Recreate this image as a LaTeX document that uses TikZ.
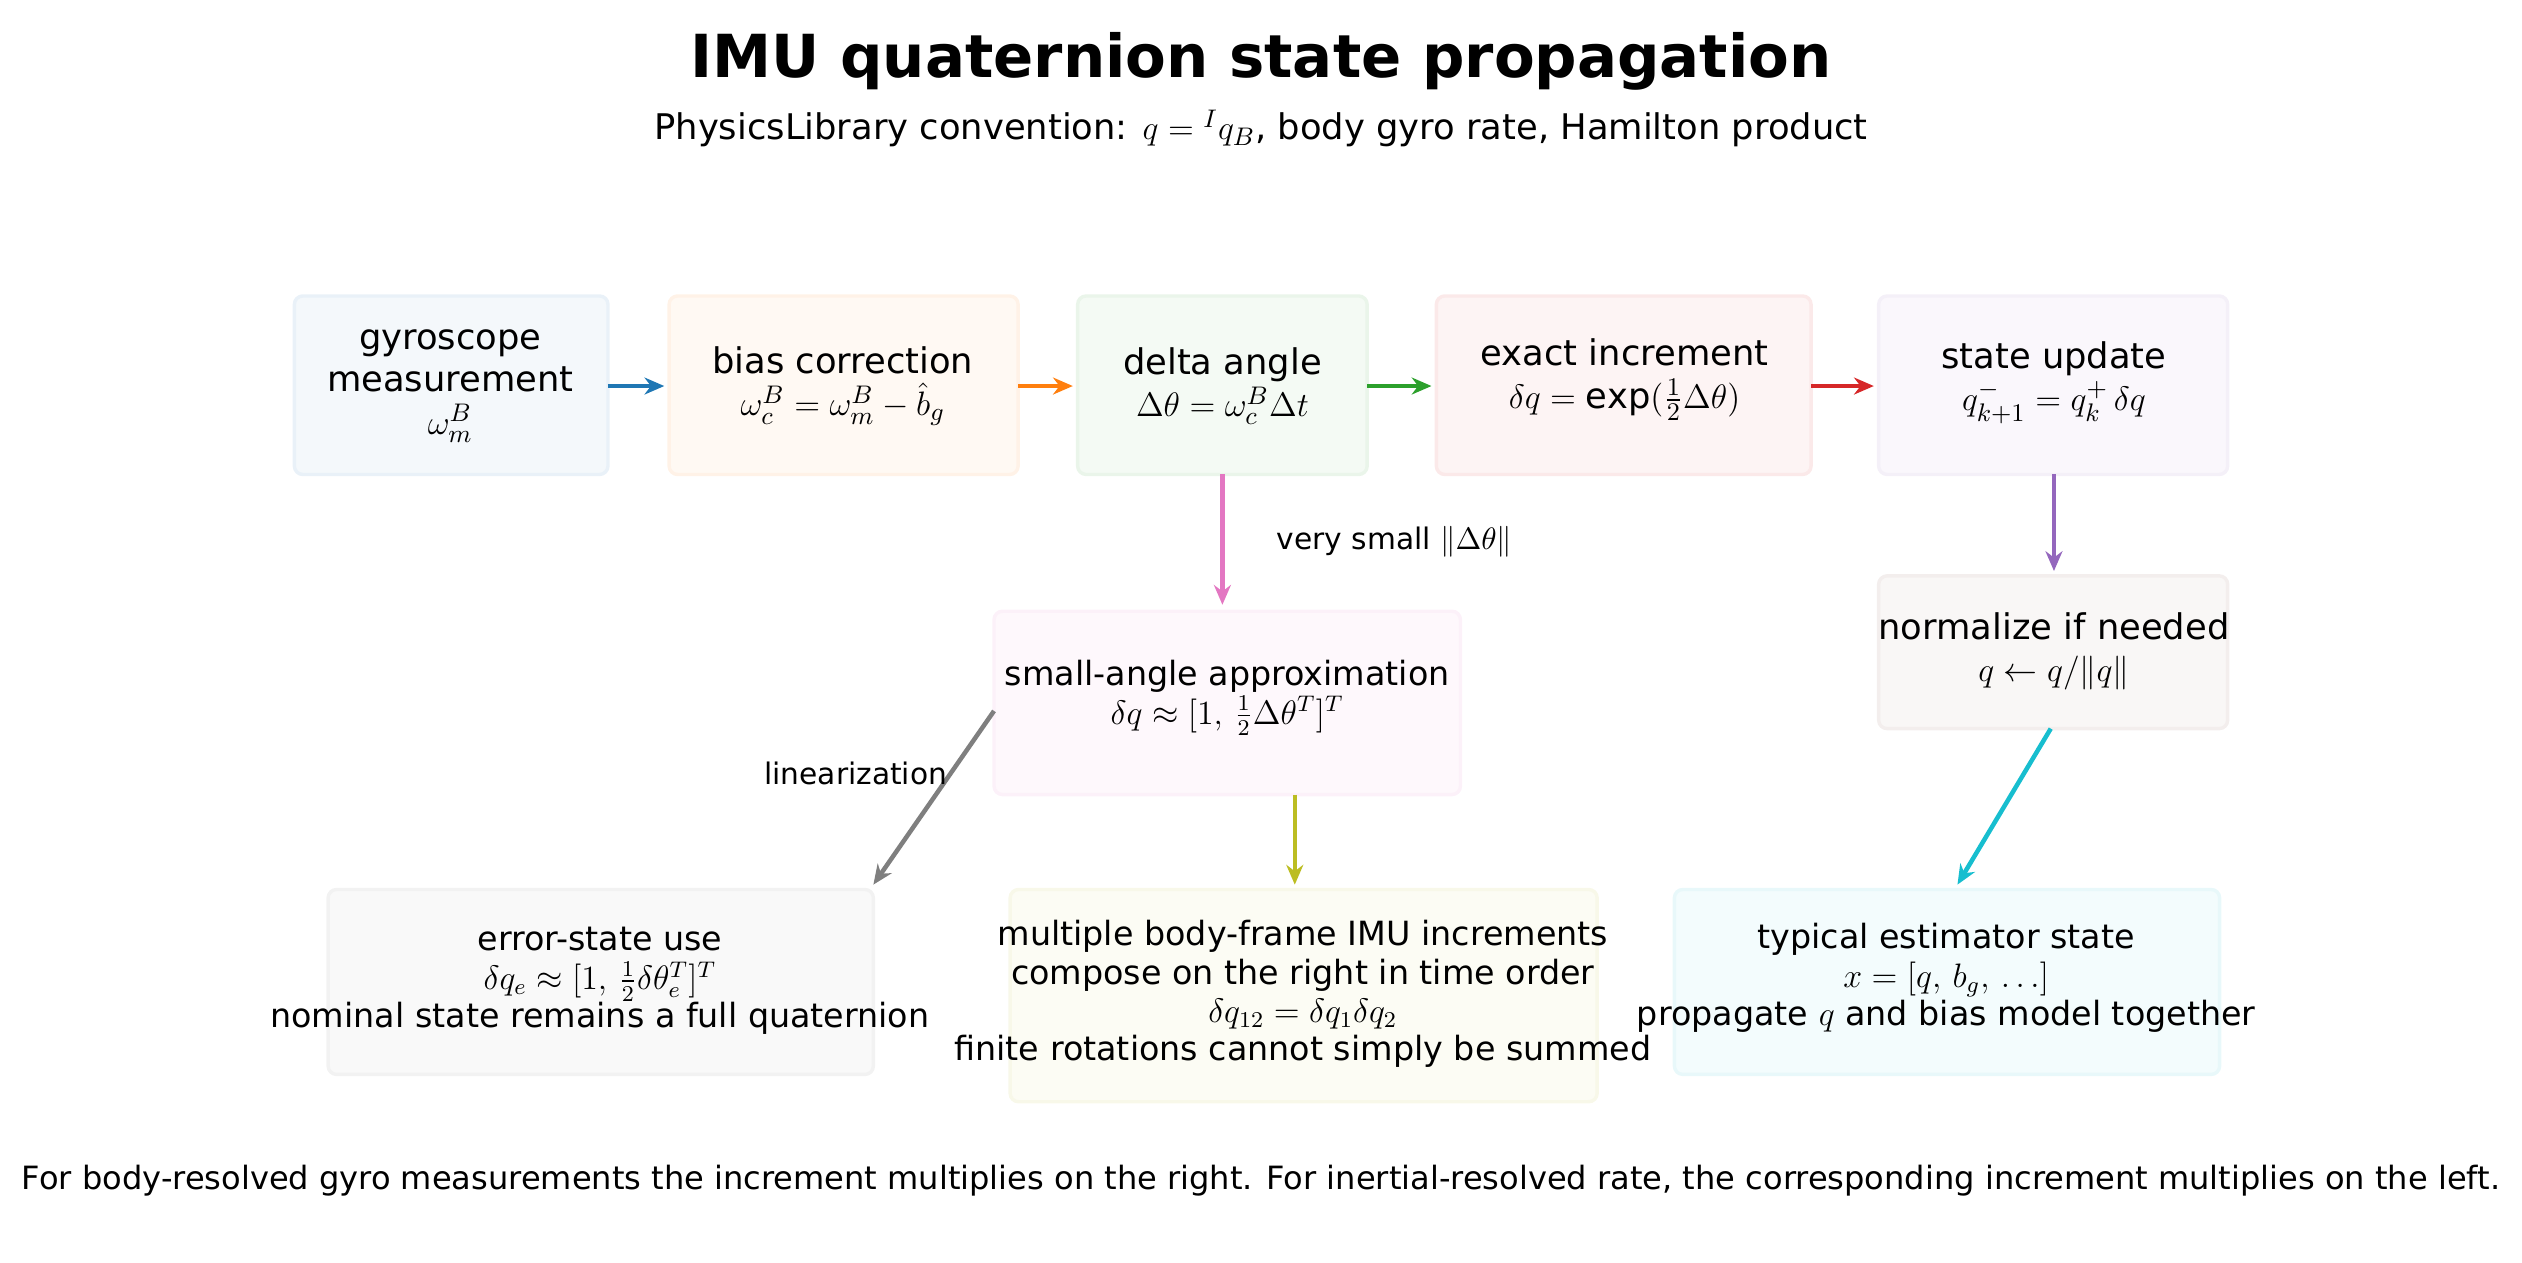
\documentclass[tikz,border=0pt]{standalone}
\usepackage{amsmath}
\usepackage{fontspec}
\setmainfont{DejaVu Sans}
\usetikzlibrary{arrows.meta}
\definecolor{cb}{HTML}{1F77B4}\definecolor{co}{HTML}{FF7F0E}\definecolor{cg}{HTML}{2CA02C}
\definecolor{cr}{HTML}{D62728}\definecolor{cp}{HTML}{9467BD}\definecolor{cbr}{HTML}{8C564B}
\definecolor{cpk}{HTML}{E377C2}\definecolor{cgr}{HTML}{7F7F7F}\definecolor{col}{HTML}{BCBD22}
\definecolor{ccy}{HTML}{17BECF}
\begin{document}
\begin{tikzpicture}[x=0.02cm,y=-0.02cm,
 box/.style={draw=#1!10,fill=#1!5,rounded corners=3pt,line width=1.2pt},
 t/.style={font=\fontsize{12.5}{15}\selectfont,align=center},
 s/.style={font=\fontsize{11.8}{13.6}\selectfont,align=center},
 ar/.style={-{Stealth[length=7pt,width=6pt]},line width=1.6pt,draw=#1}]
\useasboundingbox (0,0) rectangle (1568,785);
\node[font=\fontsize{21}{25}\selectfont\bfseries] (title) at (784,38) {IMU quaternion state propagation};
\node[font=\fontsize{12.5}{15}\selectfont] (sub) at (784,80) {PhysicsLibrary convention: $q={}^{I}q_B$, body gyro rate, Hamilton product};
\path[box=cb] (183,184) rectangle (378,295);
\path[box=co] (416,184) rectangle (633,295);
\path[box=cg] (670,184) rectangle (850,295);
\path[box=cr] (893,184) rectangle (1126,295);
\path[box=cp] (1168,184) rectangle (1385,295);
\path[box=cbr] (1168,358) rectangle (1385,453);
\path[box=cpk] (618,380) rectangle (908,494);
\path[box=cgr] (204,553) rectangle (543,668);
\path[box=col] (628,553) rectangle (993,685);
\path[box=ccy] (1041,553) rectangle (1380,668);
\node[t] (n1) at (280,240) {gyroscope\\measurement\\$\omega_m^B$};
\node[t] (n2) at (524,240) {bias correction\\$\omega_c^B=\omega_m^B-\hat b_g$};
\node[t] (n3) at (760,240) {delta angle\\$\Delta\theta=\omega_c^B\Delta t$};
\node[t] (n4) at (1010,236) {exact increment\\$\delta q=\exp(\tfrac12\Delta\theta)$};
\node[t] (n5) at (1277,238) {state update\\$q_{k+1}^-=q_k^+\,\delta q$};
\node[t] (n6) at (1277,405) {normalize if needed\\$q\leftarrow q/\lVert q\rVert$};
\node[s] (n7) at (763,434) {small-angle approximation\\$\delta q\approx[1,\,\tfrac12\Delta\theta^T]^T$};
\node[s] (n8) at (373,610) {error-state use\\$\delta q_e\approx[1,\,\tfrac12\delta\theta_e^T]^T$\\nominal state remains a full quaternion};
\node[s] (n9) at (810,618) {multiple body-frame IMU increments\\compose on the right in time order\\$\delta q_{12}=\delta q_1\delta q_2$\\finite rotations cannot simply be summed};
\node[s] (n10) at (1210,608) {typical estimator state\\$x=[q,\,b_g,\,\ldots]$\\propagate $q$ and bias model together};
\coordinate (a1) at (378,240);\coordinate (a2) at (413,240);
\coordinate (b1s) at (633,240);\coordinate (b2) at (667,240);
\coordinate (c1) at (850,240);\coordinate (c2) at (890,240);
\coordinate (d1) at (1126,240);\coordinate (d2) at (1165,240);
\coordinate (e1) at (1277,295);\coordinate (e2) at (1277,355);
\coordinate (f1) at (760,295);\coordinate (f2) at (760,376);
\coordinate (g1) at (618,442);\coordinate (g2) at (543,550);
\coordinate (h1) at (805,494);\coordinate (h2) at (805,550);
\coordinate (i1) at (1275,453);\coordinate (i2) at (1217,550);
\draw[ar=cb] (a1)--(a2);\draw[ar=co] (b1s)--(b2);\draw[ar=cg] (c1)--(c2);
\draw[ar=cr] (d1)--(d2);\draw[ar=cp] (e1)--(e2);\draw[ar=cpk] (f1)--(f2);
\draw[ar=cgr] (g1)--(g2);\draw[ar=col] (h1)--(h2);\draw[ar=ccy] (i1)--(i2);
\node[font=\fontsize{10.5}{12}\selectfont] (l1) at (867,337) {very small $\lVert\Delta\theta\rVert$};
\node[font=\fontsize{10.5}{12}\selectfont] (l2) at (532,481) {linearization};
\node[font=\fontsize{11.35}{13}\selectfont] (foot) at (784,734) {For body-resolved gyro measurements the increment multiplies on the right. For inertial-resolved rate, the corresponding increment multiplies on the left.};
\end{tikzpicture}
\end{document}
